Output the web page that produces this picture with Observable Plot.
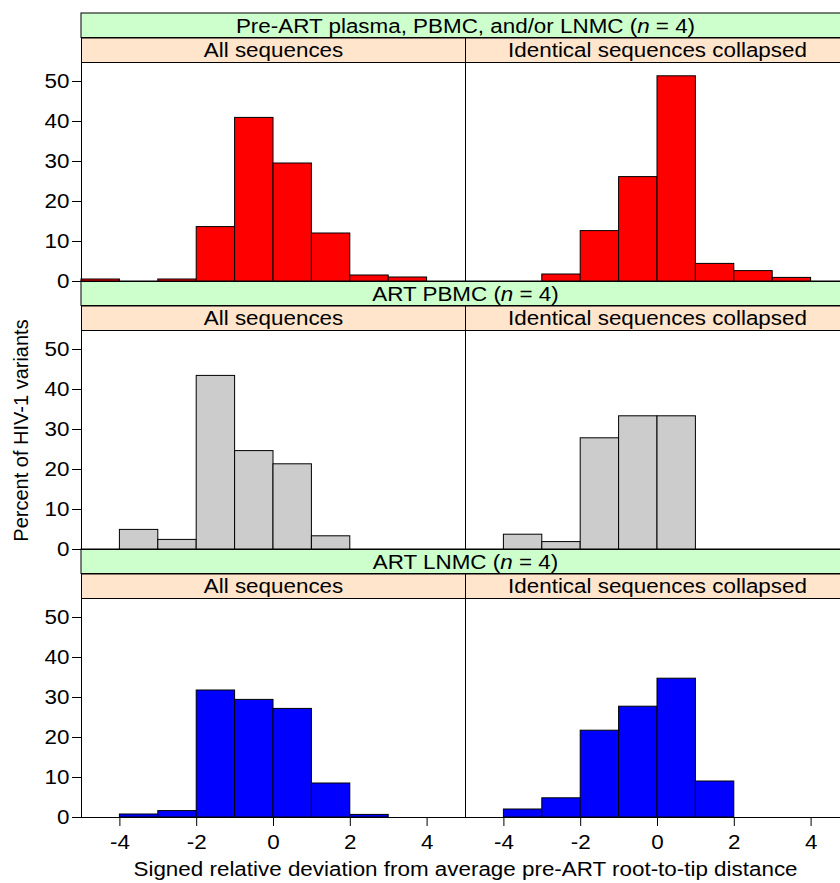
<!DOCTYPE html>
<html>
<head>
<meta charset="utf-8">
<script src="https://cdn.jsdelivr.net/npm/d3@7"></script>
<script src="https://cdn.jsdelivr.net/npm/@observablehq/plot@0.6"></script>
<style>
  html, body { margin: 0; padding: 0; background: white; overflow: hidden; }
  #wrap { width: 840px; height: 883px; overflow: hidden; }
</style>
</head>
<body>
<div id="wrap"></div>
<script>
// ---- data ----
const rows = [
  "Pre-ART plasma, PBMC, and/or LNMC (n = 4)",
  "ART PBMC (n = 4)",
  "ART LNMC (n = 4)"
];
const cols = ["All sequences", "Identical sequences collapsed"];
const rowColors = ["#ff0000", "#cccccc", "#0000ff"];
const binStarts = [-5, -4, -3, -2, -1, 0, 1, 2, 3, 4];
const binWidth = 1;

const preAll        = [0.5, 0,    0.5,  13.6,  40.9, 29.5,  12.0, 1.5,  1.0, 0];
const preCollapsed  = [0,   0,    1.75, 12.6,  26.1, 51.3,  4.4,  2.6,  0.9, 0];
const pbmcAll       = [0,   4.9,  2.4,  43.4,  24.6, 21.3,  3.3,  0,    0,   0];
const pbmcCollapsed = [0,   3.7,  1.85, 27.8,  33.3, 33.3,  0,    0,    0,   0];
const lnmcAll       = [0,   0.75, 1.6,  31.75, 29.4, 27.15, 8.5,  0.65, 0,   0];
const lnmcCollapsed = [0,   2.0,  4.8,  21.7,  27.7, 34.7,  9.0,  0,    0,   0];

const xTicks = [-4, -2, 0, 2, 4];
const yTicks = [0, 10, 20, 30, 40, 50];
const xLabel = "Signed relative deviation from average pre-ART root-to-tip distance";
const yLabel = "Percent of HIV-1 variants";

// ---- build table ----
const series = [
  [preAll, preCollapsed],
  [pbmcAll, pbmcCollapsed],
  [lnmcAll, lnmcCollapsed]
];
const bars = [];
series.forEach((pair, ri) => pair.forEach((vals, ci) => vals.forEach((v, i) => {
  if (v > 0) bars.push({row: rows[ri], col: cols[ci], x1: binStarts[i], x2: binStarts[i] + binWidth, value: v});
})));
const stripCells = [];
rows.forEach(r => cols.forEach(c => stripCells.push({row: r, col: c})));
const rowCells = rows.map(r => ({row: r, col: cols[0]}));

// ---- layout ----
const panelH = 219;
const stripH = 24.5;
const panelW = 384;
const hStretch = 1.12; // reference text is horizontally wider than its height suggests
const font = "'Liberation Sans', Arial, Helvetica, sans-serif";

const chart = Plot.plot({
  width: 849,
  height: 883,
  marginLeft: 81,
  marginRight: 0,
  marginTop: 62,
  marginBottom: 66,
  fx: {domain: cols, padding: 0, axis: null},
  fy: {domain: rows, paddingInner: 49 / 268, paddingOuter: 0, axis: null, round: false},
  x: {domain: [-5, 5]},
  y: {domain: [0, 54.75]},
  color: {domain: rows, range: rowColors},
  marks: [
    // peach column strips
    Plot.frame({fill: "#ffe5cc", stroke: "black", insetTop: -stripH, insetBottom: panelH}),
    // green row strips spanning both columns
    Plot.rect(rowCells, {fx: "col", fy: "row", fill: "#ccffcc", stroke: "black",
      insetTop: -2 * stripH, insetBottom: panelH + stripH, insetRight: -panelW}),
    Plot.text(rowCells, {fx: "col", fy: "row", text: "row", frameAnchor: "top-right",
      textAnchor: "middle", lineAnchor: "middle", dy: -1.5 * stripH + 0.5, fontSize: 20, fill: "black"}),
    Plot.text(stripCells, {fx: "col", fy: "row", text: "col", frameAnchor: "top",
      textAnchor: "middle", lineAnchor: "middle", dy: -0.5 * stripH + 0.5, fontSize: 20, fill: "black"}),
    // bars
    Plot.rectY(bars, {x1: "x1", x2: "x2", y: "value", fx: "col", fy: "row", fill: "row", stroke: "black", strokeWidth: 1}),
    Plot.frame({stroke: "black"}),
    Plot.axisY({ticks: yTicks, tickSize: 9, tickPadding: 3, fontSize: 20, tickFormat: d => String(d), label: null}),
    Plot.axisX({ticks: xTicks, tickSize: 9, tickPadding: 8, fontSize: 20, tickFormat: d => String(d), label: null}),
    // axis titles
    Plot.text([{row: rows[2], col: cols[0]}], {fx: "col", fy: "row", text: () => xLabel,
      frameAnchor: "bottom-right", textAnchor: "middle", lineAnchor: "middle", dy: 52, fontSize: 20, fill: "black"}),
    Plot.text([{row: rows[1], col: cols[0]}], {fx: "col", fy: "row", text: () => yLabel,
      frameAnchor: "left", textAnchor: "middle", lineAnchor: "middle", rotate: -90, dx: -59.5, dy: -9.5, fontSize: 20, fill: "black"})
  ]
});

chart.style.maxWidth = "none";
chart.style.overflow = "visible";
chart.style.fontFamily = font;
chart.style.color = "black";
chart.style.background = "white";
chart.querySelectorAll("text").forEach(el => { el.style.fontFamily = font; });

// italic n in "(n = 4)"
chart.querySelectorAll("text").forEach(el => {
  const t = el.textContent;
  const k = t.indexOf("(n = ");
  if (k >= 0 && el.children.length === 0) {
    el.textContent = "";
    el.appendChild(document.createTextNode(t.slice(0, k + 1)));
    const ts = document.createElementNS("http://www.w3.org/2000/svg", "tspan");
    ts.setAttribute("font-style", "italic");
    ts.textContent = "n";
    el.appendChild(ts);
    el.appendChild(document.createTextNode(t.slice(k + 2)));
  }
});

document.getElementById("wrap").appendChild(chart);

// widen horizontal texts to match the reference's proportions
chart.querySelectorAll("text").forEach(el => {
  const tr = el.getAttribute("transform") || "";
  if (tr.includes("rotate")) return;
  const len = el.getComputedTextLength();
  if (len > 0) {
    el.setAttribute("textLength", (len * hStretch).toFixed(2));
    el.setAttribute("lengthAdjust", "spacingAndGlyphs");
  }
});
</script>
</body>
</html>
